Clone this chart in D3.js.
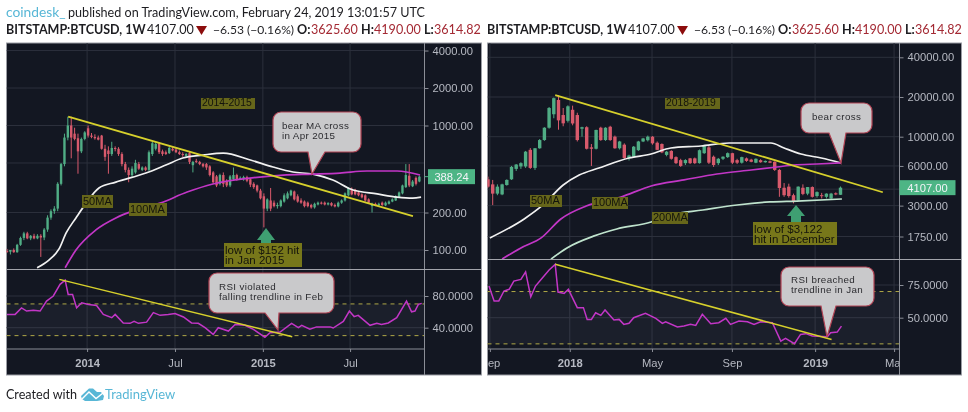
<!DOCTYPE html>
<html>
<head>
<meta charset="utf-8">
<script src="https://cdn.jsdelivr.net/npm/d3@7"></script>
<style>
  body { margin: 0; background: #fff; }
  svg { display: block; filter: blur(0.35px); }
</style>
</head>
<body>
<div id="chart"></div>
<script>
// ---- left chart: weekly BTCUSD 2013-2015 ---- rows are open, high, low, close
var leftCandles = [
  [98,102,95,97],[97,100,92,100],[100,103,95,96],[96,112,95,110],[110,128,108,125],[125,140,120,136],
  [136,140,122,124],[124,132,120,130],[130,135,122,124],[124,134,122,130],[130,134,88,126],[126,150,120,146],
  [146,190,140,182],[182,212,175,205],[205,225,195,215],[215,350,205,340],[340,500,330,490],[490,860,470,800],
  [800,1176,760,1000],[1000,1176,545,800],[860,960,760,780],[790,860,410,620],[620,800,600,780],[780,900,760,880],
  [950,1000,800,830],[830,870,790,810],[810,850,770,790],[800,830,760,770],[830,840,640,650],[650,700,520,560],
  [630,680,410,590],[590,740,570,660],[660,680,620,650],[650,670,570,590],[590,610,470,490],[490,510,420,440],
  [440,460,350,400],[400,470,380,450],[420,530,410,500],[490,510,440,450],[440,470,430,460],[460,470,430,440],
  [440,630,430,610],[590,740,570,720],[650,730,630,710],[720,730,590,610],[620,640,570,590],[610,630,580,590],
  [600,680,590,660],[650,670,620,630],[640,660,600,610],[610,630,580,590],[590,610,560,580],[570,600,550,590],
  [600,620,490,510],[480,520,420,510],[520,540,500,510],[510,520,480,490],[490,500,460,470],[490,500,440,460],
  [470,480,390,400],[420,430,340,350],[390,400,320,330],[340,410,330,400],[400,420,320,340],[360,370,320,330],
  [330,400,320,390],[370,460,360,400],[400,410,360,370],[375,390,365,380],[370,395,360,385],[385,395,350,360],
  [370,380,320,335],[340,350,310,320],[330,335,290,300],[300,310,255,260],[270,285,152,215],[215,260,205,255],
  [250,315,205,215],[240,250,220,225],[225,240,215,230],[225,255,220,250],[245,285,240,275],[260,295,255,285],
  [275,305,270,300],[295,300,250,255],[270,280,240,245],[250,260,235,240],[245,250,220,225],[240,245,220,225],
  [230,235,215,220],[220,240,215,235],[232,245,228,240],[240,245,232,238],[240,245,228,232],[232,242,228,238],
  [238,242,224,228],[230,236,220,224],[224,245,220,240],[240,255,235,250],[250,290,245,285],[275,320,270,315],
  [310,318,275,280],[305,310,275,280],[290,295,270,275],[280,285,260,265],[275,280,245,250],[255,260,235,240],
  [225,240,200,235],[235,240,225,228],[228,240,225,235],[240,245,226,230],[228,245,225,240],[235,250,232,245],
  [245,260,242,255],[250,275,248,270],[265,295,262,290],[285,335,280,330],[320,490,315,400],[395,490,320,330],
  [325,365,320,355],[380,390,330,340],[355,395,350,388.24]
];
var leftMa50Weeks = [8.9,12.4,15.4,17.5,20.4,23.4,27.2,32.2,41.1,47,52,58,64,72,78.7,84.6,90.5,96.4,102.4,109.5,115.4,120,122.5];
var leftMa50 = [72,83,102,137,181,238,315,351,415,481,548,579,600,528,464,423,407,365,303,282,266,261,266];
var leftMa100Weeks = [17.2,20.4,26.3,32.2,37.3,45.3,53.3,60.9,71.9,81.7,90.5,98.5,106.5,115.4,122.2];
var leftMa100 = [72,100,145,181,206,238,292,339,378,400,407,415,431,431,400];
var leftRsiWeeks = [0,2.4,4.3,5.8,7.8,9.8,11.7,13.7,15.7,17.2,18.1,19.4,20.6,22.1,24.1,26.5,28.5,31,32,34.4,36.4,37.6,38.9,41.3,43.3,45.3,47.7,49.7,52.2,54.6,56.6,58.6,61,62.5,65.5,67.5,70.4,72.9,76.3,77.8,80.8,84.2,86.2,87.2,89.6,91.6,95.6,96.5,99.5,101.3,102.7,103.9,107.4,109.4,110.8,112.8,115.3,118.2,119.7,120.7,121.7,122.7];
var leftRsi = [56.8,56.8,65,61,62,61,73.6,80,94.7,100,82,82,65,71.5,69.4,68,56.8,52.6,56.8,46,45.5,48,45.5,47,59,55.6,56.8,58,53.5,46,45.5,40,31.6,40,35.8,44,43,38,28,33.7,34.5,45.5,40,43,38,41,41,39.6,48,61,54,55.6,43,45.5,44,46,52.6,73.6,60,61,69.4,70.7];
var leftTrendWeeks = [18.1,120.1];
var leftTrendPrice = [1176,187];
var leftRsiTrendWeeks = [15.5,84.4];
var leftRsiTrend = [101,28.6];
var leftPriceTicks = [4000,2000,1000,200,100];
var leftPriceGrid = [4000,2000,1000,500,200,100];
var leftRsiTicks = [80,40];
var leftTickWeeks = [23.7,49.7,75.7,101.5];
var leftTickLabels = ["2014","Jul","2015","Jul"];

// ---- right chart: weekly BTCUSD 2017-2019 ----
var rightCandles = [
  [4750,4980,4100,4180],[4350,4700,3030,3700],[3700,4350,3600,4180],[3650,4400,3600,4350],[4300,4750,4250,4700],
  [4750,6000,4700,5900],[5700,6200,5500,6150],[5950,6400,5700,6300],[5950,7800,5800,7700],[7950,8200,5700,5800],
  [5800,8200,5600,8170],[8170,9600,8100,9430],[9430,11800,9300,11700],[11700,16800,11500,16500],[14800,19800,13800,19600],
  [19000,20700,11300,13300],[14600,16500,12000,12630],[13200,17300,12800,17000],[16000,17200,12200,12600],[14600,15200,9200,9430],
  [11500,11900,10000,11800],[11800,12000,8000,8100],[8300,8800,6000,8100],[8100,11300,8000,11250],[11700,11900,9300,9430],
  [9430,11800,9300,11700],[11900,12100,9300,9430],[10000,10200,8100,8170],[8170,9300,8000,9200],[8700,8900,6700,6900],
  [6900,7300,6600,7200],[7050,8500,6900,8400],[7900,9300,7800,9200],[9200,9800,9100,9700],[9400,10200,9200,10000],
  [10000,10100,8700,8900],[9000,9200,7900,7950],[8800,8900,7500,7600],[7280,7800,7100,7700],[7800,7900,6700,6800],
  [7000,7100,6200,6300],[6640,6800,5900,6000],[6300,6750,6100,6650],[6850,6900,6200,6300],[6850,6950,6200,6300],
  [6300,8000,6250,7900],[7500,8700,7400,8600],[8300,8500,6200,6350],[7050,7200,5900,6100],[6300,6900,6100,6800],
  [6800,7100,6650,7050],[7000,7600,6900,7500],[7500,7550,6200,6350],[6640,6800,6200,6350],[6350,7050,6250,7000],
  [6850,6950,6450,6550],[6700,6800,6400,6450],[6350,6850,6300,6800],[6640,6750,6350,6400],[6400,6600,6350,6550],
  [6500,6600,6300,6350],[6450,6500,5500,5600],[5600,5700,3500,4080],[4100,4450,3500,3600],[4180,4400,3450,3550],
  [3600,3700,3122,3200],[3300,4200,3250,4180],[4100,4350,3600,3680],[3700,4150,3600,4150],[4150,4200,3450,3500],
  [3550,3850,3450,3800],[3600,3750,3400,3550],[3500,3720,3400,3700],[3400,3750,3350,3700],[3720,3780,3600,3650],
  [3625.6,4190,3614.82,4107]
];
var rightMa50Weeks = [0.4,7.7,11.7,16,19.4,23.6,30,34.7,38.9,45.3,51.3,60.2,63,66.6,70.9,75.1];
var rightMa50 = [1707,2377,3035,4300,5120,5790,6890,7390,8210,8500,8960,8960,8210,7390,6890,6320];
var rightMa100Weeks = [3,7,11.3,15.5,20.9,28.3,34.7,41.7,48.7,56,61.5,65.1,70,75.1];
var rightMa100 = [1180,1434,1707,2377,2980,3490,4230,4700,5210,5590,5890,6100,6210,6320];
var rightMa200Weeks = [13.4,16.8,22.6,27.4,34.7,38.7,45.7,53,60,65.7,75.3];
var rightMa200 = [1180,1434,1768,1996,2256,2549,2780,3035,3200,3250,3370];
var rightRsiWeeks = [0.2,1.3,2.3,3.4,4.5,5.5,7,8,9.1,10.1,11.6,13,14.3,14.9,16.2,17.1,19,20.3,21.1,22,22.9,24,24.9,26.8,27.9,28.9,30,31,33.5,35.7,37.1,37.8,40.3,41.7,43.1,44.2,45.6,47.4,49.1,50.6,51.6,53.4,55.2,56.6,58,60.5,62.3,63.3,65.2,66.5,67.6,69,72.2,72.9,74.3,75.2];
var rightRsi = [74.2,62.8,62.8,70.4,71.7,78,79.3,85,66,74.2,80.6,86.5,90.8,69.6,68.6,71.7,57.7,57.7,48.7,48.7,53.8,51.8,55.9,48.2,48.7,44.9,45.7,50,53.3,49.5,45.7,46.9,42.9,43.6,44.9,44.1,52.6,45.4,46.2,49.5,44.9,47.4,46.9,44.9,46.9,46.2,32.1,34.2,30.1,37.2,37.8,36,35.5,38.5,39,43.6];
var rightTrendWeeks = [14.3,84];
var rightTrendPrice = [20700,3790];
var rightRsiTrendWeeks = [14.3,73.1];
var rightRsiTrend = [90.8,33.4];
var rightPriceTicks = [40000,20000,10000,6000,3000,1750];
var rightPriceGrid = [40000,20000,10000,6000,4000,3000,1750];
var rightRsiTicks = [75,50];
var rightTickWeeks = [0.4,17.4,34.9,51.9,69.6,86.4];
var rightTickLabels = ["Sep","2018","May","Sep","2019","Mar"];

var rsiBands = [70,30];

var upColor = "#50ad85";
var downColor = "#d85a6c";
var bgColor = "#131722";
var gridColor = "#2c303c";
var axisText = "#b6b9c2";
var yellow = "#d6d02c";
var magenta = "#c236c6";

var svg = d3.select("#chart").append("svg")
  .attr("width", 968)
  .attr("height", 412)
  .style("font-family", "'Liberation Sans', Arial, sans-serif");

svg.append("rect").attr("width", 968).attr("height", 412).attr("fill", "#fff");

var panelCount = 0;

// one TradingView pane: price on top, RSI under it, shared week axis
function drawPanel(cfg) {
  panelCount += 1;
  var g = svg.append("g");

  var x = d3.scaleLinear().domain([0, 10]).range([cfg.x0, cfg.x0 + cfg.weekPx * 10]);
  var yPrice = d3.scaleLog().domain(cfg.priceDomain).range(cfg.priceRange);
  var yRsi = d3.scaleLinear().domain(cfg.rsiDomain).range(cfg.rsiRange);

  g.append("rect")
    .attr("x", cfg.left).attr("y", cfg.top)
    .attr("width", cfg.right - cfg.left).attr("height", cfg.bottom - cfg.top)
    .attr("fill", bgColor).attr("stroke", "#9a9ca3").attr("stroke-width", 1);

  var clipPrice = "clipPrice" + panelCount, clipRsi = "clipRsi" + panelCount, clipAxis = "clipAxis" + panelCount;
  var defs = svg.append("defs");
  defs.append("clipPath").attr("id", clipPrice).append("rect")
    .attr("x", cfg.left).attr("y", cfg.top).attr("width", cfg.axisX - cfg.left).attr("height", cfg.split - cfg.top);
  defs.append("clipPath").attr("id", clipRsi).append("rect")
    .attr("x", cfg.left).attr("y", cfg.split).attr("width", cfg.axisX - cfg.left).attr("height", cfg.rsiBottom - cfg.split);
  defs.append("clipPath").attr("id", clipAxis).append("rect")
    .attr("x", cfg.left).attr("y", cfg.rsiBottom).attr("width", cfg.axisX - cfg.left).attr("height", cfg.bottom - cfg.rsiBottom);

  // grid
  g.append("g").selectAll("line").data(cfg.tickWeeks).enter().append("line")
    .attr("x1", d => x(d)).attr("x2", d => x(d))
    .attr("y1", cfg.top).attr("y2", cfg.rsiBottom)
    .attr("stroke", gridColor);
  g.append("g").attr("clip-path", `url(#${clipPrice})`).selectAll("line").data(cfg.priceGrid).enter().append("line")
    .attr("x1", cfg.left).attr("x2", cfg.axisX)
    .attr("y1", d => yPrice(d)).attr("y2", d => yPrice(d))
    .attr("stroke", gridColor);
  g.append("g").selectAll("line").data(cfg.rsiTicks).enter().append("line")
    .attr("x1", cfg.left).attr("x2", cfg.axisX)
    .attr("y1", d => yRsi(d)).attr("y2", d => yRsi(d))
    .attr("stroke", gridColor);

  // rsi band and its dashed limits
  g.append("rect")
    .attr("x", cfg.left).attr("width", cfg.axisX - cfg.left)
    .attr("y", yRsi(rsiBands[0])).attr("height", yRsi(rsiBands[1]) - yRsi(rsiBands[0]))
    .attr("fill", "#8a8fa8").attr("opacity", 0.07);
  g.append("g").selectAll("line").data(rsiBands).enter().append("line")
    .attr("x1", cfg.left).attr("x2", cfg.axisX)
    .attr("y1", d => yRsi(d)).attr("y2", d => yRsi(d))
    .attr("stroke", "#b0a947").attr("stroke-dasharray", "4,4");

  // candles
  var candleGroup = g.append("g").attr("clip-path", `url(#${clipPrice})`);
  candleGroup.selectAll(".wick").data(cfg.candles).enter().append("line")
    .attr("class", "wick")
    .attr("x1", (d, i) => x(i)).attr("x2", (d, i) => x(i))
    .attr("y1", d => yPrice(d[1])).attr("y2", d => yPrice(d[2]))
    .attr("stroke", d => d[3] >= d[0] ? upColor : downColor);
  candleGroup.selectAll(".body").data(cfg.candles).enter().append("rect")
    .attr("class", "body")
    .attr("x", (d, i) => x(i) - cfg.candleW / 2)
    .attr("width", cfg.candleW)
    .attr("y", d => yPrice(Math.max(d[0], d[3])))
    .attr("height", d => Math.max(1, Math.abs(yPrice(d[0]) - yPrice(d[3]))))
    .attr("fill", d => d[3] >= d[0] ? upColor : downColor);

  // moving averages + price trendline
  var maLine = d3.line().curve(d3.curveMonotoneX).x(d => x(d[0])).y(d => yPrice(d[1]));
  var rsiLine = d3.line().x(d => x(d[0])).y(d => yRsi(d[1]));
  cfg.mas.forEach(function (m) {
    candleGroup.append("path")
      .attr("d", maLine(d3.zip(m.weeks, m.values)))
      .attr("fill", "none").attr("stroke", m.color).attr("stroke-width", 1.7);
  });
  candleGroup.append("path")
    .attr("d", maLine(d3.zip(cfg.trendWeeks, cfg.trendPrice)))
    .attr("fill", "none").attr("stroke", yellow).attr("stroke-width", 1.8);

  // rsi
  var rsiGroup = g.append("g").attr("clip-path", `url(#${clipRsi})`);
  rsiGroup.append("path")
    .attr("d", rsiLine(d3.zip(cfg.rsiWeeks, cfg.rsi)))
    .attr("fill", "none").attr("stroke", magenta).attr("stroke-width", 1.5);
  rsiGroup.append("path")
    .attr("d", rsiLine(d3.zip(cfg.rsiTrendWeeks, cfg.rsiTrend)))
    .attr("fill", "none").attr("stroke", yellow).attr("stroke-width", 1.5);

  // dividers
  g.append("line").attr("x1", cfg.axisX).attr("x2", cfg.axisX).attr("y1", cfg.top).attr("y2", cfg.bottom)
    .attr("stroke", "#8b8e97");
  g.append("line").attr("x1", cfg.left).attr("x2", cfg.right).attr("y1", cfg.split).attr("y2", cfg.split)
    .attr("stroke", "#a2a4ab");
  g.append("line").attr("x1", cfg.left).attr("x2", cfg.axisX).attr("y1", cfg.rsiBottom).attr("y2", cfg.rsiBottom)
    .attr("stroke", "#8b8e97");

  // axes
  function styleAxis(a) {
    a.select(".domain").remove();
    a.selectAll("line").attr("stroke", "#8b8e97");
    a.selectAll("text").attr("fill", axisText).style("font-size", "11.2px");
  }
  g.append("g").attr("transform", `translate(${cfg.axisX},0)`)
    .call(d3.axisRight(yPrice).tickValues(cfg.priceTicks).tickFormat(d3.format(".2f")).tickSize(4).tickPadding(4))
    .call(styleAxis);
  g.append("g").attr("transform", `translate(${cfg.axisX},0)`)
    .call(d3.axisRight(yRsi).tickValues(cfg.rsiTicks).tickFormat(d3.format(".4f")).tickSize(4).tickPadding(4))
    .call(styleAxis);
  // clip sits on a wrapper so it stays in page coordinates ("Sep" and "Mar" get cut at the pane edge)
  g.append("g").attr("clip-path", `url(#${clipAxis})`)
    .append("g").attr("transform", `translate(0,${cfg.rsiBottom})`)
    .call(d3.axisBottom(x).tickValues(cfg.tickWeeks)
      .tickFormat((d, i) => cfg.tickLabels[i]).tickSize(3).tickPadding(7))
    .call(styleAxis)
    .selectAll("text")
    .attr("font-weight", (d, i) => /^\d+$/.test(cfg.tickLabels[i]) ? "bold" : "normal");

  // last price tag
  var tagY = yPrice(cfg.lastPrice);
  g.append("line").attr("x1", cfg.axisX).attr("x2", cfg.axisX + 4).attr("y1", tagY).attr("y2", tagY).attr("stroke", upColor);
  g.append("rect")
    .attr("x", cfg.tag[0]).attr("y", tagY - 7.5).attr("width", cfg.tag[1]).attr("height", 15)
    .attr("fill", "#4db585");
  g.append("text")
    .attr("x", cfg.tag[0] + cfg.tag[1] / 2).attr("y", tagY + 4)
    .attr("text-anchor", "middle").attr("fill", "#f2f4f8").style("font-size", "11.2px")
    .text(d3.format(".2f")(cfg.lastPrice));
}

drawPanel({
  left: 6.5, right: 481.5, top: 43, bottom: 375, axisX: 424.5, split: 269.5, rsiBottom: 349,
  x0: 7, weekPx: 3.38, candleW: 2.4,
  priceDomain: [100, 1000], priceRange: [250, 125.5],
  rsiDomain: [40, 80], rsiRange: [327.7, 296],
  candles: leftCandles,
  mas: [
    { weeks: leftMa50Weeks, values: leftMa50, color: "#f1f1f1" },
    { weeks: leftMa100Weeks, values: leftMa100, color: magenta }
  ],
  trendWeeks: leftTrendWeeks, trendPrice: leftTrendPrice,
  rsiWeeks: leftRsiWeeks, rsi: leftRsi,
  rsiTrendWeeks: leftRsiTrendWeeks, rsiTrend: leftRsiTrend,
  priceTicks: leftPriceTicks, priceGrid: leftPriceGrid, rsiTicks: leftRsiTicks,
  tickWeeks: leftTickWeeks, tickLabels: leftTickLabels,
  lastPrice: 388.24, tag: [428, 47]
});

drawPanel({
  left: 487.5, right: 961.5, top: 43, bottom: 375, axisX: 899.5, split: 259.5, rsiBottom: 349,
  x0: 488, weekPx: 4.7, candleW: 3.4,
  priceDomain: [1750, 10000], priceRange: [236.5, 136.7],
  rsiDomain: [50, 75], rsiRange: [317.7, 285],
  candles: rightCandles,
  mas: [
    { weeks: rightMa50Weeks, values: rightMa50, color: "#f1f1f1" },
    { weeks: rightMa100Weeks, values: rightMa100, color: magenta },
    { weeks: rightMa200Weeks, values: rightMa200, color: "#bfe3cd" }
  ],
  trendWeeks: rightTrendWeeks, trendPrice: rightTrendPrice,
  rsiWeeks: rightRsiWeeks, rsi: rightRsi,
  rsiTrendWeeks: rightRsiTrendWeeks, rsiTrend: rightRsiTrend,
  priceTicks: rightPriceTicks, priceGrid: rightPriceGrid, rsiTicks: rightRsiTicks,
  tickWeeks: rightTickWeeks, tickLabels: rightTickLabels,
  lastPrice: 4107, tag: [899.5, 56]
});

// ---- annotations drawn on top of the screenshots (page pixels) ----
function olive(x, y, w, h, lines, size, fill) {
  svg.append("rect").attr("x", x).attr("y", y).attr("width", w).attr("height", h).attr("fill", fill || "#66661a");
  lines.forEach(function (t, i) {
    svg.append("text")
      .attr("x", x + 1).attr("y", y + (lines.length > 1 ? 10.8 + i * 10.6 : h - 3))
      .attr("fill", "#14140c").style("font-size", size + "px")
      .text(t);
  });
}

function callout(x0, y0, x1, y1, tail, lines, textX, textY) {
  var r = 8;
  var p = d3.path();
  p.moveTo(x0 + r, y0);
  p.arcTo(x1, y0, x1, y1, r);
  p.arcTo(x1, y1, x0, y1, r);
  p.lineTo(tail[2], y1);
  p.lineTo(tail[3], tail[4]);
  p.lineTo(tail[0], y1);
  p.arcTo(x0, y1, x0, y0, r);
  p.arcTo(x0, y0, x1, y0, r);
  p.closePath();
  svg.append("path").attr("d", p.toString())
    .attr("fill", "#c9c9cb").attr("stroke", "#b24455").attr("stroke-width", 1.2);
  lines.forEach(function (t, i) {
    svg.append("text")
      .attr("x", textX).attr("y", textY + i * 10.2)
      .attr("fill", "#2c2c30").style("font-size", "9.8px").style("letter-spacing", "0.35px")
      .text(t);
  });
}

function arrowUp(cx, tipY, headY, endY) {
  svg.append("path")
    .attr("d", `M${cx} ${tipY}L${cx + 9} ${headY}L${cx + 5} ${headY}L${cx + 5} ${endY}L${cx - 5} ${endY}L${cx - 5} ${headY}L${cx - 9} ${headY}Z`)
    .attr("fill", "#3f9f72");
}

olive(201, 98, 54, 11, ["2014-2015"], 10.4);
olive(82, 195, 31, 13, ["50MA"], 11);
olive(129, 203, 38, 13, ["100MA"], 11);
arrowUp(266, 228, 240, 243);
olive(224, 243, 78, 24, ["low of $152 hit", "in Jan 2015"], 11.5, "#77771a");
callout(273, 112, 361, 152, [308, 0, 325, 312, 174], ["bear MA cross", "in Apr 2015"], 282, 129);
callout(209, 273, 334, 313, [265, 0, 279, 278, 330], ["RSI violated", "falling trendline in Feb"], 219, 290);

olive(665, 98, 55, 11, ["2018-2019"], 10.4);
olive(530, 195, 32, 12, ["50MA"], 11);
olive(592, 197, 36, 12, ["100MA"], 11);
olive(652, 212, 36, 12, ["200MA"], 11);
arrowUp(796, 205, 216, 222);
olive(753, 222, 84, 23, ["low of $3,122", "hit in December"], 11.5, "#77771a");
callout(801, 103, 872, 133, [829, 0, 846, 841, 163], ["bear cross"], 812, 120);
callout(781, 267, 874, 306, [821, 0, 836, 827, 337], ["RSI breached", "trendline in Jan"], 791, 283);

// ---- page header and footer ----
var headerFont = "Lato, 'Open Sans', sans-serif";
var priceRed = "#a42a34";
var textDark = "#1d1d21";

function headerText(x, y, t, color, bold, size) {
  svg.append("text").attr("x", x).attr("y", y)
    .attr("fill", color).attr("font-weight", bold ? "bold" : "normal")
    .style("font-family", headerFont).style("font-size", (size || 12.6) + "px")
    .text(t);
}

headerText(6, 17, "coindesk_", "#58b7d6", false, 13.8);
headerText(68, 17, "published on TradingView.com, February 24, 2019 13:01:57 UTC", textDark);

function quoteLine(dx) {
  headerText(6 + dx, 34, "BITSTAMP:BTCUSD, 1W", textDark, true, 12.5);
  headerText(147 + dx, 34, "4107.00", textDark);
  svg.append("path")
    .attr("d", `M${196 + dx} 26L${207 + dx} 26L${201.5 + dx} 35Z`)
    .attr("fill", "#8c0d0d");
  headerText(213 + dx, 34, "\u22126.53 (\u22120.16%)", textDark, false, 12.1);
  headerText(297 + dx, 34, "O:", textDark, true);
  headerText(311 + dx, 34, "3625.60", priceRed);
  headerText(361 + dx, 34, "H:", textDark, true);
  headerText(374 + dx, 34, "4190.00", priceRed);
  headerText(424 + dx, 34, "L:", textDark, true);
  headerText(434 + dx, 34, "3614.82", priceRed);
}
quoteLine(0);
quoteLine(481);

headerText(6, 399, "Created with", textDark, false, 12.6);
headerText(105, 399, "TradingView", "#58b7d6", false, 13);
// TradingView cloud mark with its zigzag
svg.append("path")
  .attr("d", "M81 396L89 388.5L93 388.5L97 392L101 392L104 396L103 400L97 401L85 401L82 399Z")
  .attr("fill", "#58b7d6");
svg.append("path")
  .attr("d", "M82 399L89 392L96 398.5L103 393")
  .attr("fill", "none").attr("stroke", "#fff").attr("stroke-width", 1.4);
</script>
</body>
</html>
